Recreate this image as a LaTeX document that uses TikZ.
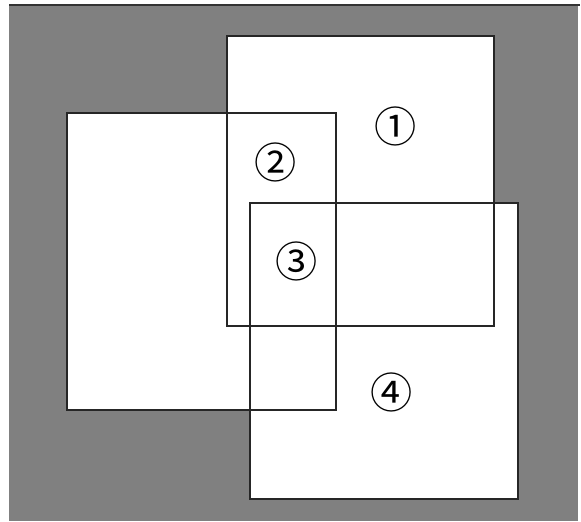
\documentclass[tikz,border=0pt]{standalone}
\usepackage{fontspec}
\newfontfamily\cjk{Noto Sans CJK SC}
\begin{document}
\begin{tikzpicture}[x=0.03cm, y=-0.03cm,
    region/.style={draw=black!85, line width=1.3pt},
    nummer/.style={font=\cjk\fontsize{36}{36}\selectfont, inner sep=0pt}]

% Zemin
\useasboundingbox (0,0) rectangle (581,521);
\fill[black!50] (9,5) rectangle (578,521);
\draw[black!80, line width=1pt] (9,5) -- (580,5);

% Dikdortgen koseleri
\coordinate (A1) at (227,36);  \coordinate (A2) at (494,326);
\coordinate (B1) at (67,113);  \coordinate (B2) at (336,410);
\coordinate (C1) at (250,203); \coordinate (C2) at (518,499);

% Beyaz dolgular, sonra kenarlar
\foreach \r in {A,B,C}
  \fill[white] (\r1) rectangle (\r2);
\foreach \r in {A,B,C}
  \draw[region] (\r1) rectangle (\r2);

% Bolge numaralari
\node[nummer] (n1) at (396,126.5) {①};
\node[nummer] (n2) at (275.7,162.5) {②};
\node[nummer] (n3) at (297,261.7) {③};
\node[nummer] (n4) at (391.7,392) {④};

\end{tikzpicture}
\end{document}
